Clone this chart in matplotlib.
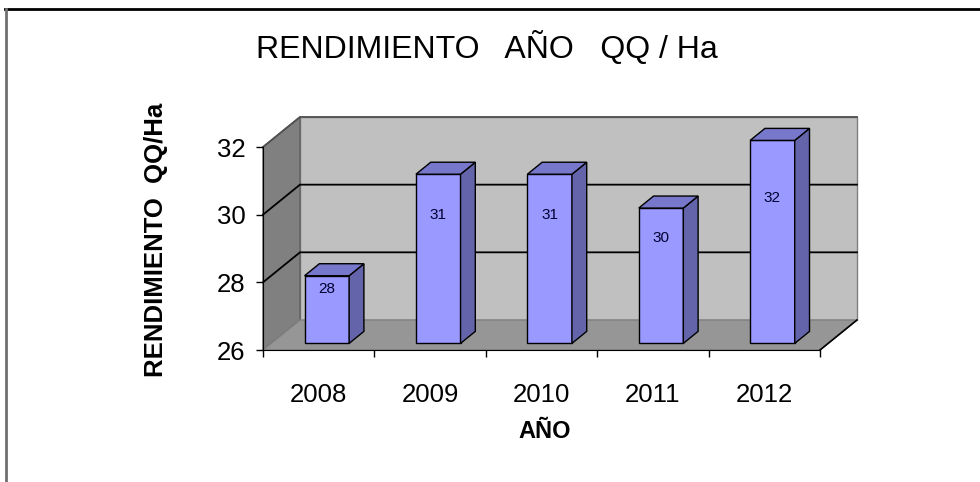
import numpy as np
import matplotlib.pyplot as plt
from matplotlib.patches import Polygon
from matplotlib.lines import Line2D

plt.rcParams['font.family'] = ['Liberation Sans', 'DejaVu Sans']

# datos
anios = ["2008", "2009", "2010", "2011", "2012"]
rendimiento = [28, 31, 31, 30, 32]
etiquetas = ["28", "31", "31", "30", "32"]

y_min, y_max = 26, 32
y_ticks = [26, 28, 30, 32]

# altura (en el plano frontal) donde Excel dejo cada etiqueta
pos_etiqueta = [27.8, 30.0, 30.0, 29.3, 30.5]

# profundidad 3D (en unidades de datos)
DX, DY = 0.332, 0.887
d_front, d_back = 0.22, 0.62
bar_w = 0.40

fig = plt.figure(figsize=(9.8, 4.82), dpi=100)
ax = fig.add_axes([263 / 980, 132 / 482, 557 / 980, 203 / 482])
ax.set_xlim(0, len(anios))
ax.set_ylim(y_min, y_max)
ax.patch.set_visible(False)

n = len(anios)

# paredes
pared_fondo = Polygon([(DX, y_min + DY), (n + DX, y_min + DY), (n + DX, y_max + DY), (DX, y_max + DY)],
                      closed=True, facecolor="#c0c0c0", edgecolor="#808080", lw=1, clip_on=False, zorder=0)
pared_izq = Polygon([(0, y_min), (DX, y_min + DY), (DX, y_max + DY), (0, y_max)],
                    closed=True, facecolor="#808080", edgecolor="#606060", lw=1, clip_on=False, zorder=0)
piso = Polygon([(0, y_min), (n, y_min), (n + DX, y_min + DY), (DX, y_min + DY)],
               closed=True, facecolor="#969696", edgecolor="#808080", lw=1, clip_on=False, zorder=0.5)
for p in (pared_fondo, pared_izq, piso):
    ax.add_patch(p)
ax.plot([n, n + DX], [y_min, y_min + DY], color="black", lw=1.2, clip_on=False, zorder=1)

# lineas de division
for v in y_ticks[1:]:
    c = "#505050" if v == y_max else "black"
    ax.plot([0, DX, n + DX], [v, v + DY, v + DY], color=c, lw=1.3, clip_on=False, zorder=1)

# barras 3D
for i, (v, lab, ly) in enumerate(zip(rendimiento, etiquetas, pos_etiqueta)):
    x0 = i + (1 - bar_w) / 2
    fx0, fy0 = x0 + d_front * DX, y_min + d_front * DY
    fx1, fy1 = fx0 + bar_w, v + d_front * DY
    ddx, ddy = (d_back - d_front) * DX, (d_back - d_front) * DY
    frente = Polygon([(fx0, fy0), (fx1, fy0), (fx1, fy1), (fx0, fy1)], closed=True,
                     facecolor="#9999ff", edgecolor="black", lw=1, clip_on=False, zorder=3)
    lado = Polygon([(fx1, fy0), (fx1 + ddx, fy0 + ddy), (fx1 + ddx, fy1 + ddy), (fx1, fy1)], closed=True,
                   facecolor="#6464aa", edgecolor="black", lw=1, clip_on=False, zorder=3)
    techo = Polygon([(fx0, fy1), (fx1, fy1), (fx1 + ddx, fy1 + ddy), (fx0 + ddx, fy1 + ddy)], closed=True,
                    facecolor="#7777cc", edgecolor="black", lw=1, clip_on=False, zorder=3)
    for p in (frente, lado, techo):
        ax.add_patch(p)
    ax.text((fx0 + fx1) / 2, ly, lab, ha="center", va="center", fontsize=11, color="#000033", zorder=4)

# ejes
for s in ("top", "right"):
    ax.spines[s].set_visible(False)
ax.spines["left"].set_zorder(2)
ax.spines["bottom"].set_zorder(2)
ax.set_yticks(y_ticks)
ax.set_xticks(range(n + 1))
ax.set_xticklabels([])
ax.set_xticks(np.arange(n) + 0.5, minor=True)
ax.set_xticklabels(anios, minor=True)
ax.tick_params(axis="y", direction="out", length=5, width=1, pad=7.5, labelsize=18.5)
ax.tick_params(axis="x", which="major", direction="out", length=5, width=1)
ax.tick_params(axis="x", which="minor", length=0, pad=24, labelsize=18.5)

ax.set_xlabel("AÑO", fontsize=17, fontweight="bold", va="center")
ax.xaxis.set_label_coords(0.506, -0.40)
ax.set_ylabel("RENDIMIENTO  QQ/Ha", fontsize=18.5, fontweight="bold", va="center")
ax.yaxis.set_label_coords(-0.192, 0.542)

fig.text(487 / 980, 1 - 48 / 482, "RENDIMIENTO   AÑO   QQ / Ha", ha="center", va="center", fontsize=23)

# marco
fig.add_artist(Line2D([5 / 980, 1], [1 - 8.5 / 482, 1 - 8.5 / 482], transform=fig.transFigure, color="black", lw=2))
fig.add_artist(Line2D([6 / 980, 6 / 980], [0, 1 - 8.5 / 482], transform=fig.transFigure, color="#707070", lw=2))

plt.savefig("out.png", dpi=100)
